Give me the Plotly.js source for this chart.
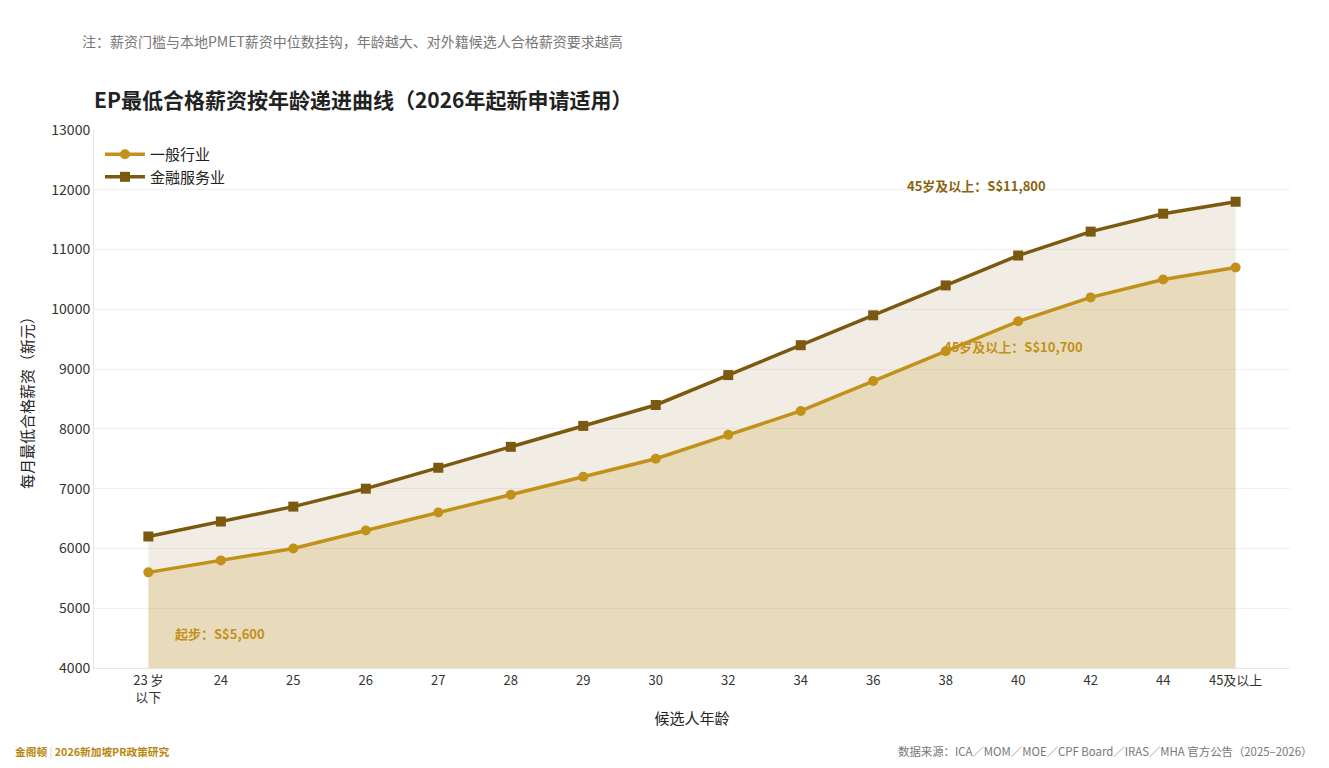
<!DOCTYPE html>
<html>
<head>
<meta charset="utf-8">
<script src="https://cdn.plot.ly/plotly-3.0.1.min.js"></script>
<style>
html,body{margin:0;padding:0;background:#fff;}
#chart{width:1329px;height:768px;}
</style>
</head>
<body>
<div id="chart"></div>
<script>
const ageLabels = ["23 岁<br>以下","24","25","26","27","28","29","30","32","34","36","38","40","42","44","45及以上"];
const generalSalary = [5600,5800,6000,6300,6600,6900,7200,7500,7900,8300,8800,9300,9800,10200,10500,10700];
const financeSalary = [6200,6450,6700,7000,7350,7700,8050,8400,8900,9400,9900,10400,10900,11300,11600,11800];
const seriesNames = ["一般行业","金融服务业"];

const FONT = '"Noto Sans CJK SC", "Noto Sans", sans-serif';
const GOLD = '#C2911A';
const BROWN = '#7B5A0F';

const traces = [
  // fill areas (no legend)
  {
    x: ageLabels, y: generalSalary, type: 'scatter', mode: 'none',
    fill: 'tozeroy', fillcolor: 'rgba(194,160,80,0.38)',
    showlegend: false, hoverinfo: 'skip'
  },
  {
    x: ageLabels, y: financeSalary, type: 'scatter', mode: 'none',
    fill: 'tonexty', fillcolor: 'rgba(170,150,100,0.17)',
    showlegend: false, hoverinfo: 'skip'
  },
  // lines + markers
  {
    x: ageLabels, y: generalSalary, name: seriesNames[0],
    type: 'scatter', mode: 'lines+markers',
    line: {color: GOLD, width: 3.5},
    marker: {color: GOLD, size: 10, symbol: 'circle'}
  },
  {
    x: ageLabels, y: financeSalary, name: seriesNames[1],
    type: 'scatter', mode: 'lines+markers',
    line: {color: BROWN, width: 3.5},
    marker: {color: BROWN, size: 10, symbol: 'square'}
  }
];

const last = ageLabels.length - 1;
const PW = 1196, PH = 538, PL = 94, PT = 130;
const px = v => (v - PL) / PW;
const py = v => 1 - (v - PT) / PH;

const layout = {
  width: 1329, height: 768,
  margin: {l: 94, r: 39, t: 130, b: 100},
  paper_bgcolor: '#fff', plot_bgcolor: '#fff',
  font: {family: FONT, color: '#333', size: 14},
  title: {
    text: '<b>EP最低合格薪资按年龄递进曲线（2026年起新申请适用）</b>',
    x: 94/1329, xanchor: 'left', y: 1 - 101/768, yanchor: 'middle',
    font: {family: FONT, size: 21, color: '#222'}
  },
  showlegend: true,
  legend: {
    x: 0.005, y: 0.985, xanchor: 'left', yanchor: 'top',
    traceorder: 'normal',
    bgcolor: 'rgba(0,0,0,0)', font: {size: 15, color: '#222'},
    itemwidth: 40, tracegroupgap: 4
  },
  xaxis: {
    type: 'category',
    range: [-0.75, 15.75],
    showgrid: false, zeroline: false,
    showline: true, linecolor: '#e6e6e6', linewidth: 1,
    ticks: '', tickfont: {size: 13, color: '#333'},
    title: {text: '候选人年龄', font: {size: 15, color: '#222'}, standoff: 8}
  },
  yaxis: {
    range: [4000, 13000],
    dtick: 1000, tickformat: 'd',
    showgrid: true, gridcolor: '#f0f0f0', gridwidth: 1,
    zeroline: false,
    showline: true, linecolor: '#e6e6e6', linewidth: 1,
    ticks: '', tickfont: {size: 14, color: '#333'},
    title: {text: '每月最低合格薪资（新元）', font: {size: 15, color: '#222'}, standoff: 14}
  },
  annotations: [
    {
      xref: 'x', yref: 'y', x: 11.43, y: 12070,
      text: '<b>45岁及以上：S$' + financeSalary[last].toLocaleString('en-US') + '</b>',
      showarrow: false, font: {size: 13, color: '#8A6410'}, xanchor: 'center', yanchor: 'middle'
    },
    {
      xref: 'x', yref: 'y', x: 11.93, y: 9370,
      text: '<b>45岁及以上：S$' + generalSalary[last].toLocaleString('en-US') + '</b>',
      showarrow: false, font: {size: 13, color: '#C2911A'}, xanchor: 'center', yanchor: 'middle'
    },
    {
      xref: 'x', yref: 'y', x: 0.99, y: 4580,
      text: '<b>起步：S$' + generalSalary[0].toLocaleString('en-US') + '</b>',
      showarrow: false, font: {size: 13, color: '#C2911A'}, xanchor: 'center', yanchor: 'middle'
    },
    {
      xref: 'paper', yref: 'paper', x: px(80), y: py(41),
      text: '注：薪资门槛与本地PMET薪资中位数挂钩，年龄越大、对外籍候选人合格薪资要求越高',
      showarrow: false, font: {size: 14, color: '#777'}, xanchor: 'left', yanchor: 'middle'
    },
    {
      xref: 'paper', yref: 'paper', x: px(13), y: py(751),
      text: '<b>金阁顿</b> <span style="color:#ccc">|</span> <b>2026新加坡PR政策研究</b>',
      showarrow: false, font: {size: 10.7, color: '#B8860B'}, xanchor: 'left', yanchor: 'middle'
    },
    {
      xref: 'paper', yref: 'paper', x: px(1314), y: py(751),
      text: '数据来源：ICA／MOM／MOE／CPF Board／IRAS／MHA 官方公告（2025–2026）',
      showarrow: false, font: {size: 11.4, color: '#777'}, xanchor: 'right', yanchor: 'middle'
    }
  ]
};

Plotly.newPlot('chart', traces, layout, {displayModeBar: false, responsive: false});
</script>
</body>
</html>
